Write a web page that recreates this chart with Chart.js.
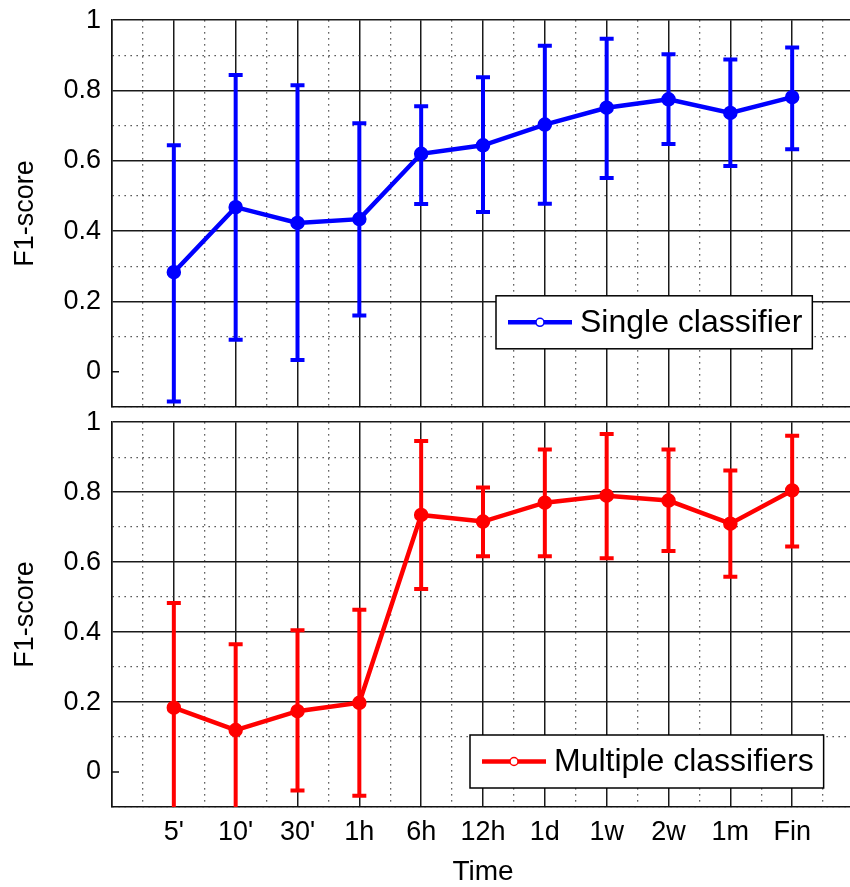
<!DOCTYPE html>
<html>
<head>
<meta charset="utf-8">
<script src="https://cdn.jsdelivr.net/npm/chart.js@4.4.1/dist/chart.umd.min.js"></script>
<style>
  html, body { margin: 0; padding: 0; background: #fff; overflow: hidden; width: 850px; height: 887px; }
  canvas { position: absolute; left: 0; }
  #topChart { top: -7px; }
  #bottomChart { top: 395px; }
</style>
</head>
<body>
<canvas id="topChart" width="870" height="441"></canvas>
<canvas id="bottomChart" width="870" height="495"></canvas>
<script>
// values
const timeLabels = ["5'", "10'", "30'", "1h", "6h", "12h", "1d", "1w", "2w", "1m", "Fin"];

const singleMean = [0.283, 0.468, 0.423, 0.434, 0.620, 0.644, 0.703, 0.751, 0.775, 0.736, 0.781];
const singleLow  = [-0.085, 0.091, 0.033, 0.160, 0.477, 0.454, 0.478, 0.551, 0.648, 0.585, 0.633];
const singleHigh = [0.644, 0.844, 0.815, 0.707, 0.755, 0.838, 0.927, 0.947, 0.903, 0.888, 0.922];

const multiMean = [0.184, 0.120, 0.174, 0.198, 0.735, 0.716, 0.770, 0.790, 0.776, 0.710, 0.805];
const multiLow  = [-0.115, -0.125, -0.053, -0.068, 0.523, 0.617, 0.617, 0.611, 0.632, 0.558, 0.645];
const multiHigh = [0.483, 0.365, 0.405, 0.464, 0.946, 0.813, 0.922, 0.966, 0.922, 0.862, 0.961];

const yTickValues = [0, 0.2, 0.4, 0.6, 0.8, 1];

Chart.defaults.font.family = '"Liberation Sans", Arial, Helvetica, sans-serif';
Chart.defaults.color = '#000';

const FONT = '"Liberation Sans", Arial, Helvetica, sans-serif';

// helpers for matlab-like grid (solid major, dotted minor)
const xMinor = c => c.tick && !Number.isInteger(c.tick.value);
const yStep = c => Math.round(c.tick.value * 10);
const yMinor = c => c.tick && Math.abs(yStep(c)) % 2 === 1;

const errorBars = {
  id: 'errorBars',
  afterDatasetsDraw(chart) {
    const {ctx, chartArea: a, scales: {x, y}} = chart;
    ctx.save();
    ctx.beginPath();
    ctx.rect(a.left, a.top, a.right - a.left, a.bottom - a.top);
    ctx.clip();
    chart.data.datasets.forEach(ds => {
      ctx.strokeStyle = ds.borderColor;
      ctx.lineWidth = 4;
      ds.errLow.forEach((lo, i) => {
        const px = x.getPixelForValue(i + 1);
        const y0 = y.getPixelForValue(lo);
        const y1 = y.getPixelForValue(ds.errHigh[i]);
        ctx.beginPath();
        ctx.moveTo(px, y0); ctx.lineTo(px, y1);
        ctx.moveTo(px - 7, y0); ctx.lineTo(px + 7, y0);
        ctx.moveTo(px - 7, y1); ctx.lineTo(px + 7, y1);
        ctx.stroke();
      });
    });
    // small inner tick at y = 0
    const y0 = y.getPixelForValue(0);
    ctx.strokeStyle = '#111';
    ctx.lineWidth = 1.5;
    ctx.beginPath();
    ctx.moveTo(a.left, y0); ctx.lineTo(a.left + 7, y0);
    ctx.stroke();
    ctx.restore();
  }
};

const boxLegend = {
  id: 'boxLegend',
  afterDraw(chart, args, opts) {
    const {ctx, chartArea: a} = chart;
    const ds = chart.data.datasets[0];
    ctx.save();
    ctx.font = '32px ' + FONT;
    const tw = ctx.measureText(ds.label).width;
    const w = 12 + 64 + 8 + tw + 10, h = 53;
    const bx = a.left + opts.left, by = a.bottom - opts.bottom - h;
    ctx.fillStyle = '#fff';
    ctx.fillRect(bx, by, w, h);
    ctx.strokeStyle = '#000';
    ctx.lineWidth = 1.5;
    ctx.strokeRect(bx, by, w, h);
    const cy = by + h / 2;
    ctx.strokeStyle = ds.borderColor;
    ctx.lineWidth = 4.5;
    ctx.beginPath();
    ctx.moveTo(bx + 12, cy); ctx.lineTo(bx + 76, cy);
    ctx.stroke();
    ctx.fillStyle = '#fff';
    ctx.lineWidth = 1.5;
    ctx.beginPath();
    ctx.arc(bx + 44, cy, 4, 0, Math.PI * 2);
    ctx.fill(); ctx.stroke();
    ctx.fillStyle = '#000';
    ctx.textBaseline = 'middle';
    ctx.fillText(ds.label, bx + 84, cy + 1);
    ctx.restore();
  }
};

function makeChart(id, label, color, mean, low, high, showX, padding, legendPos) {
  return new Chart(document.getElementById(id), {
    type: 'line',
    data: {
      datasets: [{
        label: label,
        data: mean.map((v, i) => ({x: i + 1, y: v})),
        errLow: low,
        errHigh: high,
        borderColor: color,
        backgroundColor: color,
        borderWidth: 4.5,
        pointRadius: 5,
        pointBackgroundColor: color,
        pointBorderColor: color,
        tension: 0
      }]
    },
    options: {
      responsive: false,
      animation: false,
      layout: { padding: padding },
      plugins: {
        legend: { display: false },
        tooltip: { enabled: false },
        boxLegend: legendPos
      },
      scales: {
        x: {
          type: 'linear',
          min: 0,
          max: 12,
          afterFit: s => { s.height = showX ? 83 : 0; },
          ticks: {
            display: showX,
            stepSize: 0.5,
            autoSkip: false,
            maxRotation: 0,
            padding: 9,
            font: { size: 27 },
            callback: v => (Number.isInteger(v) && v >= 1 && v <= 11) ? timeLabels[v - 1] : ''
          },
          grid: {
            drawTicks: false,
            color: c => xMinor(c) ? '#333' : '#1a1a1a',
            lineWidth: c => xMinor(c) ? 1.3 : 1.5
          },
          border: {
            display: true, color: '#111', width: 1.5,
            dash: c => xMinor(c) ? [1.3, 4.7] : []
          },
          title: {
            display: showX, text: 'Time', font: { size: 28 },
            padding: { top: 0, bottom: 1 }
          }
        },
        y: {
          type: 'linear',
          min: -0.1,
          max: 1,
          afterFit: s => { s.width = 112; },
          ticks: {
            stepSize: 0.1,
            autoSkip: false,
            padding: 11,
            font: { size: 27 },
            callback: v => {
              const t = yTickValues.find(k => Math.abs(k - v) < 1e-6);
              return t === undefined ? '' : String(t);
            }
          },
          grid: {
            drawTicks: false,
            color: c => {
              if (!c.tick) return '#1a1a1a';
              const k = yStep(c);
              if (k === 0) return 'rgba(0,0,0,0)';
              return yMinor(c) ? '#333' : '#1a1a1a';
            },
            lineWidth: c => yMinor(c) ? 1.3 : 1.5
          },
          border: {
            display: true, color: '#111', width: 1.5,
            dash: c => yMinor(c) ? [1.3, 4.7] : []
          },
          title: {
            display: true, text: 'F1-score', font: { size: 27 },
            padding: { top: 9, bottom: 0 }
          }
        }
      }
    },
    plugins: [errorBars, boxLegend]
  });
}

makeChart('topChart', 'Single classifier', '#0000ff', singleMean, singleLow, singleHigh,
  false, { top: 0, right: 16, bottom: 0, left: 0 }, { left: 384, bottom: 58 });
makeChart('bottomChart', 'Multiple classifiers', '#ff0000', multiMean, multiLow, multiHigh,
  true, { top: 0, right: 16, bottom: 0, left: 0 }, { left: 358, bottom: 19 });
</script>
</body>
</html>
